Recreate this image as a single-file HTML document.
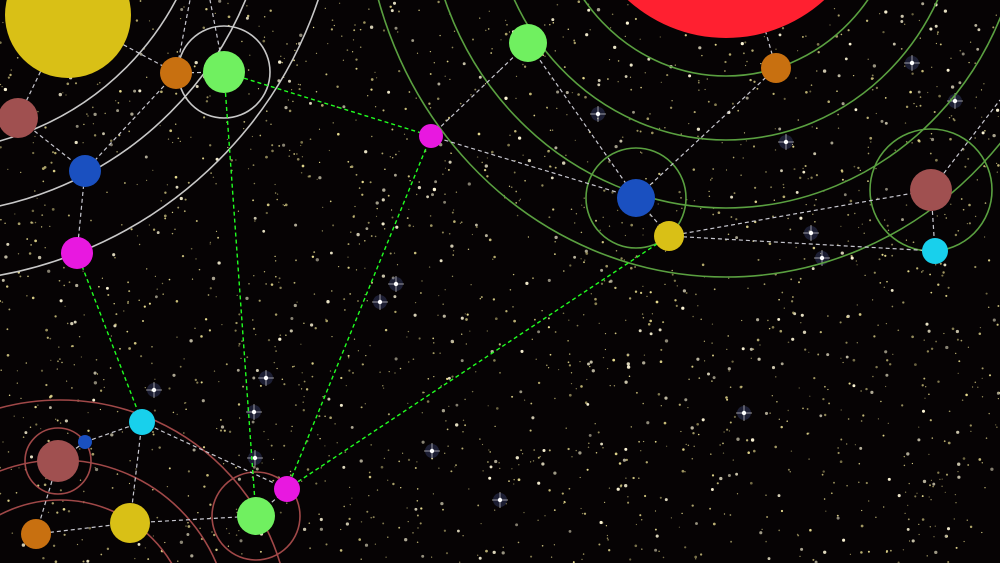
<!DOCTYPE html>
<html><head><meta charset="utf-8"><style>
html,body{margin:0;padding:0;background:#050303;width:1000px;height:563px;overflow:hidden;}
svg{display:block;}
</style></head><body>
<svg id="sky" width="1000" height="563" viewBox="0 0 1000 563" xmlns="http://www.w3.org/2000/svg">
<rect width="1000" height="563" fill="#060304"/>
<g id="stars"></g>
<g id="orbits" fill="none" stroke-width="1.6"></g>
<g id="links" fill="none"></g>
<g id="planets"></g>
</svg>
<script>
const NS='http://www.w3.org/2000/svg';
// planets: name, x, y, r, color
const planetNames=['sun-a','brown-a','orange-a','green-a','blue-a','magenta-a','green-b','orange-b','blue-b','yellow-b','brown-b','cyan-b','sun-b','magenta-b','brown-c','blue-c','cyan-c','yellow-c','orange-c','green-c','magenta-c'];
const planetX=[68,18,176,224,85,77,528,776,636,669,931,935,726,431,58,85,142,130,36,256,287];
const planetY=[15,118,73,72,171,253,43,68,198,236,190,251,-108,136,461,442,422,523,534,516,489];
const planetR=[63,20,16,21,16,16,19,15,19,15,21,13,146,12,21,7,13,20,15,19,13];
const planetC=['#d9c016','#a05050','#c87010','#70f060','#1a50c0','#e818e0','#70f060','#c87010','#1a50c0','#d9c016','#a05050','#18d0ec','#ff2030','#e818e0','#a05050','#1a50c0','#18d0ec','#d9c016','#c87010','#70f060','#e818e0'];
// orbits: center x, y, radius x, radius y, color
const orbitX=[-75,-75,-75,726,726,726,726,224,636,931,60,60,60,58,256];
const orbitY=[-133,-133,-133,-108,-108,-108,-108,72,198,190,630,630,630,461,516];
const orbitRX=[284,347,415,175,235,299,362,46,50,61,230,170,130,33,44];
const orbitRY=[284,347,415,184,248,316,385,46,50,61,230,170,130,33,44];
const orbitC=['#c8c8c8','#c8c8c8','#c8c8c8','#5aa040','#5aa040','#5aa040','#5aa040','#c8c8c8','#5aa040','#5aa040','#a04848','#a04848','#a04848','#a04848','#a04848'];
// links between planet indices
const linkFrom=[0,0,2,1,4,4,13,6,7,7,8,9,9,10,16,15,16,14,18,17,19,16];
const linkTo=[2,1,3,4,5,2,8,8,12,8,9,10,11,11,15,14,17,18,17,19,20,20];
const greenFrom=[3,3,13,5,9];
const greenTo=[13,19,20,16,20];

// star field (decorative background)
let seed=12345;function rnd(){seed=(seed*16807)%2147483647;return seed/2147483647;}
const sg=document.getElementById('stars');
for(let i=0;i<2200;i++){
  const c=document.createElementNS(NS,'circle');
  
  
  c.setAttribute('cx',(rnd()*1000).toFixed(1));c.setAttribute('cy',(rnd()*563).toFixed(1));
  const b=rnd();c.setAttribute('r',(0.6+b*b*1.1).toFixed(2));
  c.setAttribute('fill',b>0.85?'#fff8d8':(rnd()>0.4?'#e8dc90':'#c8bc78'));
  c.setAttribute('opacity',(0.5+rnd()*0.5).toFixed(2));
  sg.appendChild(c);
}
const bright=[[396,284],[380,302],[598,114],[786,142],[811,233],[955,101],[912,63],[500,500],[432,451],[154,390],[254,412],[255,458],[266,378],[744,413],[822,258]];
bright.forEach(p=>{
  const g=document.createElementNS(NS,'g');
  
  
  g.innerHTML=`<circle cx="${p[0]}" cy="${p[1]}" r="7" fill="#6070c0" opacity="0.25"/><line x1="${p[0]-8}" y1="${p[1]}" x2="${p[0]+8}" y2="${p[1]}" stroke="#fff" stroke-width="0.8" opacity="0.7"/><line x1="${p[0]}" y1="${p[1]-8}" x2="${p[0]}" y2="${p[1]+8}" stroke="#fff" stroke-width="0.8" opacity="0.7"/><circle cx="${p[0]}" cy="${p[1]}" r="2.2" fill="#fff"/>`;
  sg.appendChild(g);
});

const og=document.getElementById('orbits');
for(let i=0;i<orbitX.length;i++){
  const c=document.createElementNS(NS,'ellipse');
  
  
  c.setAttribute('cx',orbitX[i]);c.setAttribute('cy',orbitY[i]);
  c.setAttribute('rx',orbitRX[i]);c.setAttribute('ry',orbitRY[i]);
  c.setAttribute('stroke',orbitC[i]);
  og.appendChild(c);
}
const lg=document.getElementById('links');
function link(a,b,col,w,dash,name){
  const l=document.createElementNS(NS,'line');
  
  
  l.setAttribute('x1',planetX[a]);l.setAttribute('y1',planetY[a]);
  l.setAttribute('x2',planetX[b]);l.setAttribute('y2',planetY[b]);
  l.setAttribute('stroke',col);l.setAttribute('stroke-width',w);l.setAttribute('stroke-dasharray',dash);
  lg.appendChild(l);
}
for(let i=0;i<linkFrom.length;i++) link(linkFrom[i],linkTo[i],'#c8c8d0',1.2,'4 3','link');
for(let i=0;i<greenFrom.length;i++) link(greenFrom[i],greenTo[i],'#20ff20',1.4,'4 3','green-link');
// extra links leaving the frame
[[2,190,0],[3,210,0],[13,500,70],[6,500,70],[10,1000,100]].forEach(e=>{
  const l=document.createElementNS(NS,'line');
  
  
  l.setAttribute('x1',planetX[e[0]]);l.setAttribute('y1',planetY[e[0]]);l.setAttribute('x2',e[1]);l.setAttribute('y2',e[2]);
  l.setAttribute('stroke','#c8c8d0');l.setAttribute('stroke-width',1.2);l.setAttribute('stroke-dasharray','4 3');
  lg.appendChild(l);
});
const pg=document.getElementById('planets');
for(let i=0;i<planetX.length;i++){
  const c=document.createElementNS(NS,'circle');
  
  
  c.setAttribute('cx',planetX[i]);c.setAttribute('cy',planetY[i]);c.setAttribute('r',planetR[i]);
  c.setAttribute('fill',planetC[i]);
  pg.appendChild(c);
}
</script>
</body></html>
